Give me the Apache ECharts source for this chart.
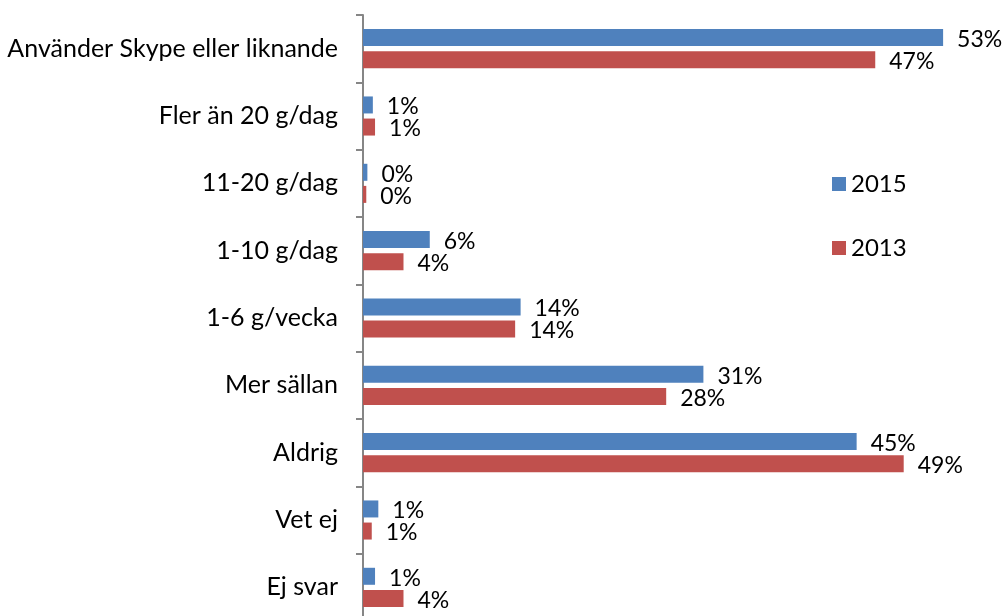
<!DOCTYPE html>
<html>
<head>
<meta charset="utf-8">
<script src="https://cdn.jsdelivr.net/npm/echarts@6/dist/echarts.min.js"></script>
<style>
html, body { margin: 0; padding: 0; background: #fff; }
#chart { width: 1008px; height: 616px; }
</style>
</head>
<body>
<div id="chart"></div>
<script>
// kategorier uppifrån och ned
var categories = ['Använder Skype eller liknande', 'Fler än 20 g/dag', '11-20 g/dag', '1-10 g/dag',
    '1-6 g/vecka', 'Mer sällan', 'Aldrig', 'Vet ej', 'Ej svar'];
var values2015 = [53, 0.9, 0.4, 6.1, 14.4, 31.1, 45.1, 1.4, 1.1];
var values2013 = [46.8, 1.1, 0.3, 3.7, 13.9, 27.7, 49.4, 0.8, 3.7];

var font = 'Lato, "Open Sans", sans-serif';

var chart = echarts.init(document.getElementById('chart'));
window.addEventListener('resize', function () { chart.resize(); }, false);

function barLabel() {
    return {
        show: true,
        position: 'right',
        distance: 14,
        offset: [0, 2],
        color: '#000',
        fontSize: 23,
        fontFamily: font,
        formatter: function (p) { return Math.round(p.value) + '%'; }
    };
}

var option = {
    animation: false,
    grid: { left: 363, top: 15, width: 602, height: 606, outerBoundsMode: 'none' },
    legend: {
        orient: 'vertical',
        left: 832,
        top: 172,
        padding: 0,
        itemWidth: 14,
        itemHeight: 14,
        itemGap: 40,
        icon: 'rect',
        textStyle: { fontSize: 24, fontFamily: font, color: '#000' },
        data: ['2015', '2013']
    },
    xAxis: {
        type: 'value',
        min: 0,
        max: 55,
        show: false
    },
    yAxis: {
        type: 'category',
        inverse: true,
        data: categories,
        axisLine: { lineStyle: { color: '#868686', width: 2 } },
        axisTick: { show: true, inside: false, length: 7, lineStyle: { color: '#868686', width: 2 } },
        axisLabel: { color: '#000', fontSize: 25, fontFamily: font, margin: 25 },
        splitLine: { show: false }
    },
    series: [
        {
            name: '2015',
            type: 'bar',
            data: values2015,
            barWidth: 17,
            barGap: '30%',
            itemStyle: { color: '#4f81bd' },
            label: barLabel()
        },
        {
            name: '2013',
            type: 'bar',
            data: values2013,
            barWidth: 17,
            barGap: '30%',
            itemStyle: { color: '#c0504d' },
            label: barLabel()
        }
    ]
};
chart.setOption(option);
</script>
</body>
</html>
